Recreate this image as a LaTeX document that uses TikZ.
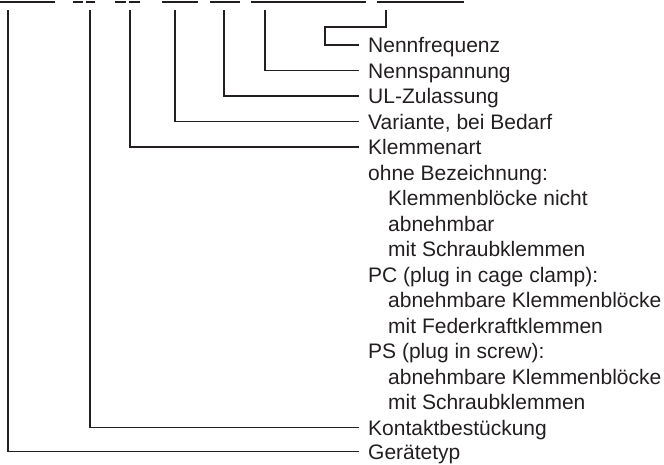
\documentclass[tikz,border=0pt]{standalone}
\usepackage{fontspec}
\setmainfont{Liberation Sans}
\definecolor{ink}{HTML}{231F20}
\begin{document}
\begin{tikzpicture}[x=1pt,y=-1pt,
  lbl/.style={anchor=base west,inner sep=0pt,font=\fontsize{21}{25}\selectfont,text=ink},
  conn/.style={draw=ink,line width=1.2pt},
  uline/.style={draw=ink,line width=1.1pt}]
\useasboundingbox (0,0) rectangle (664,464);
% underlines of the (cropped) type code
\foreach \a/\b in {0/55,73/83,86/95,115/126,129/140,162/198,210/240,251/366,377/464}
  \draw[uline] (\a,2) -- (\b,2);
% labels
\def\tx{368}
\def\ix{388}
\node[lbl] (f)  at (\tx,52.5) {Nennfrequenz};
\node[lbl] (u)  at (\tx,78) {Nennspannung};
\node[lbl] (ul) at (\tx,103.5) {UL-Zulassung};
\node[lbl] (v)  at (\tx,129) {Variante, bei Bedarf};
\node[lbl] (k)  at (\tx,154.5) {Klemmenart};
\node[lbl] (o1) at (\tx,180) {ohne Bezeichnung:};
\node[lbl] (o2) at (\ix,205.5) {Klemmenblöcke nicht};
\node[lbl] (o3) at (\ix,231) {abnehmbar};
\node[lbl] (o4) at (\ix,256.5) {mit Schraubklemmen};
\node[lbl] (p1) at (\tx,282) {PC (plug in cage clamp):};
\node[lbl] (p2) at (\ix,307.5) {abnehmbare Klemmenblöcke};
\node[lbl] (p3) at (\ix,333) {mit Federkraftklemmen};
\node[lbl] (s1) at (\tx,358.5) {PS (plug in screw):};
\node[lbl] (s2) at (\ix,384) {abnehmbare Klemmenblöcke};
\node[lbl] (s3) at (\ix,409.5) {mit Schraubklemmen};
\node[lbl] (kb) at (\tx,435) {Kontaktbestückung};
\node[lbl] (g)  at (\tx,459.3) {Gerätetyp};
% start points under the code
\coordinate (cf) at (386,10);
\coordinate (cu) at (265,10);
\coordinate (cul) at (224,10);
\coordinate (cv) at (175,10);
\coordinate (ck) at (130,10);
\coordinate (ckb) at (90,10);
\coordinate (cg) at (8,10);
% connectors
\draw[conn] (cf) -- (386,27) -- (325,27) -- (325,45) -- ([xshift=-9pt,yshift=7.5pt]f.base west);
\draw[conn] (cu) |- ([xshift=-9pt,yshift=7.5pt]u.base west);
\draw[conn] (cul) |- ([xshift=-9pt,yshift=7.5pt]ul.base west);
\draw[conn] (cv) |- ([xshift=-9pt,yshift=7.5pt]v.base west);
\draw[conn] (ck) |- ([xshift=-9pt,yshift=7.5pt]k.base west);
\draw[conn] (ckb) |- ([xshift=-9pt,yshift=7.5pt]kb.base west);
\draw[conn] (cg) |- ([xshift=-9pt,yshift=7.5pt]g.base west);
\end{tikzpicture}
\end{document}
